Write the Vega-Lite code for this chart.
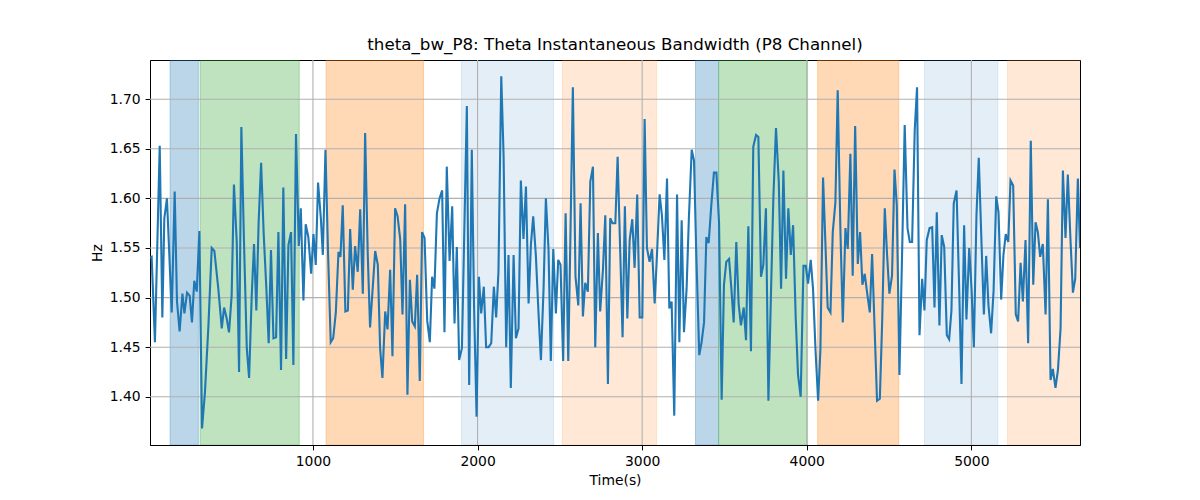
{
  "$schema": "https://vega.github.io/schema/vega-lite/v6.json",
  "width": 930,
  "height": 385,
  "autosize": "none",
  "padding": {"left": 150, "top": 60, "right": 120, "bottom": 55},
  "background": "white",
  "title": {
    "text": "theta_bw_P8: Theta Instantaneous Bandwidth (P8 Channel)",
    "font": "DejaVu Sans",
    "fontSize": 16.7,
    "fontWeight": "normal",
    "color": "black",
    "offset": 6
  },
  "config": {
    "view": {"stroke": "black", "strokeWidth": 1},
    "axis": {
      "grid": false,
      "domainColor": "black",
      "tickColor": "black",
      "tickSize": 4.9,
      "labelPadding": 4.9,
      "labelFont": "DejaVu Sans",
      "labelFontSize": 13.9,
      "labelColor": "black",
      "titleFont": "DejaVu Sans",
      "titleFontSize": 13.9,
      "titleFontWeight": "normal",
      "titleColor": "black"
    }
  },
  "datasets": {
    "bands": [
      {"start": 132, "end": 304, "segment": "S1"},
      {"start": 314, "end": 917, "segment": "S2"},
      {"start": 1080, "end": 1672, "segment": "S3"},
      {"start": 1902, "end": 2462, "segment": "S4"},
      {"start": 2515, "end": 3088, "segment": "S5"},
      {"start": 3324, "end": 3464, "segment": "S1"},
      {"start": 3465, "end": 4005, "segment": "S2"},
      {"start": 4066, "end": 4559, "segment": "S3"},
      {"start": 4715, "end": 5161, "segment": "S4"},
      {"start": 5220, "end": 5663, "segment": "S5"}
    ],
    "xgrid": [{"x": 1000}, {"x": 2000}, {"x": 3000}, {"x": 4000}, {"x": 5000}],
    "ygrid": [{"y": 1.40}, {"y": 1.45}, {"y": 1.50}, {"y": 1.55}, {"y": 1.60}, {"y": 1.65}, {"y": 1.70}],
    "series": [
      {"time": 10, "bw": 1.540}, {"time": 20, "bw": 1.541}, {"time": 40, "bw": 1.455}, {"time": 69, "bw": 1.653},
      {"time": 85, "bw": 1.480}, {"time": 97, "bw": 1.580}, {"time": 113, "bw": 1.600}, {"time": 142, "bw": 1.485},
      {"time": 160, "bw": 1.607}, {"time": 174, "bw": 1.496}, {"time": 190, "bw": 1.466}, {"time": 207, "bw": 1.504},
      {"time": 219, "bw": 1.484}, {"time": 235, "bw": 1.505}, {"time": 251, "bw": 1.502}, {"time": 265, "bw": 1.475},
      {"time": 279, "bw": 1.517}, {"time": 294, "bw": 1.506}, {"time": 310, "bw": 1.567}, {"time": 326, "bw": 1.368},
      {"time": 344, "bw": 1.405}, {"time": 365, "bw": 1.472}, {"time": 385, "bw": 1.550}, {"time": 401, "bw": 1.547},
      {"time": 425, "bw": 1.509}, {"time": 446, "bw": 1.469}, {"time": 460, "bw": 1.490}, {"time": 476, "bw": 1.479},
      {"time": 490, "bw": 1.465}, {"time": 506, "bw": 1.502}, {"time": 520, "bw": 1.614}, {"time": 537, "bw": 1.556},
      {"time": 551, "bw": 1.425}, {"time": 565, "bw": 1.672}, {"time": 581, "bw": 1.556}, {"time": 598, "bw": 1.449},
      {"time": 612, "bw": 1.419}, {"time": 628, "bw": 1.502}, {"time": 642, "bw": 1.554}, {"time": 656, "bw": 1.487},
      {"time": 670, "bw": 1.576}, {"time": 685, "bw": 1.636}, {"time": 701, "bw": 1.563}, {"time": 717, "bw": 1.509},
      {"time": 731, "bw": 1.454}, {"time": 745, "bw": 1.548}, {"time": 760, "bw": 1.459}, {"time": 776, "bw": 1.460},
      {"time": 790, "bw": 1.566}, {"time": 806, "bw": 1.427}, {"time": 820, "bw": 1.611}, {"time": 837, "bw": 1.438},
      {"time": 851, "bw": 1.553}, {"time": 867, "bw": 1.566}, {"time": 881, "bw": 1.432}, {"time": 897, "bw": 1.665},
      {"time": 914, "bw": 1.552}, {"time": 926, "bw": 1.590}, {"time": 942, "bw": 1.497}, {"time": 956, "bw": 1.574},
      {"time": 972, "bw": 1.561}, {"time": 989, "bw": 1.524}, {"time": 1003, "bw": 1.564}, {"time": 1017, "bw": 1.533},
      {"time": 1031, "bw": 1.616}, {"time": 1048, "bw": 1.580}, {"time": 1060, "bw": 1.543}, {"time": 1076, "bw": 1.649},
      {"time": 1092, "bw": 1.543}, {"time": 1108, "bw": 1.455}, {"time": 1123, "bw": 1.459}, {"time": 1139, "bw": 1.485},
      {"time": 1155, "bw": 1.546}, {"time": 1167, "bw": 1.541}, {"time": 1181, "bw": 1.593}, {"time": 1197, "bw": 1.486},
      {"time": 1212, "bw": 1.487}, {"time": 1226, "bw": 1.569}, {"time": 1242, "bw": 1.508}, {"time": 1256, "bw": 1.552},
      {"time": 1272, "bw": 1.526}, {"time": 1287, "bw": 1.589}, {"time": 1303, "bw": 1.504}, {"time": 1317, "bw": 1.666},
      {"time": 1333, "bw": 1.543}, {"time": 1347, "bw": 1.470}, {"time": 1364, "bw": 1.512}, {"time": 1378, "bw": 1.547},
      {"time": 1394, "bw": 1.533}, {"time": 1408, "bw": 1.449}, {"time": 1422, "bw": 1.419}, {"time": 1439, "bw": 1.486},
      {"time": 1453, "bw": 1.468}, {"time": 1469, "bw": 1.528}, {"time": 1483, "bw": 1.441}, {"time": 1499, "bw": 1.590},
      {"time": 1514, "bw": 1.582}, {"time": 1530, "bw": 1.559}, {"time": 1544, "bw": 1.483}, {"time": 1560, "bw": 1.594},
      {"time": 1574, "bw": 1.402}, {"time": 1589, "bw": 1.518}, {"time": 1603, "bw": 1.476}, {"time": 1619, "bw": 1.471},
      {"time": 1633, "bw": 1.523}, {"time": 1649, "bw": 1.416}, {"time": 1663, "bw": 1.566}, {"time": 1678, "bw": 1.560},
      {"time": 1694, "bw": 1.477}, {"time": 1710, "bw": 1.455}, {"time": 1724, "bw": 1.521}, {"time": 1738, "bw": 1.509},
      {"time": 1753, "bw": 1.585}, {"time": 1769, "bw": 1.600}, {"time": 1785, "bw": 1.608}, {"time": 1799, "bw": 1.465},
      {"time": 1813, "bw": 1.632}, {"time": 1830, "bw": 1.537}, {"time": 1846, "bw": 1.592}, {"time": 1860, "bw": 1.474},
      {"time": 1874, "bw": 1.551}, {"time": 1888, "bw": 1.437}, {"time": 1905, "bw": 1.449}, {"time": 1935, "bw": 1.693},
      {"time": 1949, "bw": 1.412}, {"time": 1965, "bw": 1.649}, {"time": 1979, "bw": 1.489}, {"time": 1994, "bw": 1.380},
      {"time": 2008, "bw": 1.521}, {"time": 2022, "bw": 1.484}, {"time": 2038, "bw": 1.511}, {"time": 2052, "bw": 1.450},
      {"time": 2067, "bw": 1.450}, {"time": 2083, "bw": 1.454}, {"time": 2099, "bw": 1.511}, {"time": 2113, "bw": 1.480},
      {"time": 2127, "bw": 1.526}, {"time": 2144, "bw": 1.723}, {"time": 2158, "bw": 1.644}, {"time": 2174, "bw": 1.450},
      {"time": 2188, "bw": 1.543}, {"time": 2202, "bw": 1.409}, {"time": 2219, "bw": 1.543}, {"time": 2233, "bw": 1.459},
      {"time": 2249, "bw": 1.469}, {"time": 2263, "bw": 1.618}, {"time": 2279, "bw": 1.559}, {"time": 2294, "bw": 1.612},
      {"time": 2310, "bw": 1.494}, {"time": 2324, "bw": 1.553}, {"time": 2338, "bw": 1.582}, {"time": 2354, "bw": 1.543},
      {"time": 2371, "bw": 1.482}, {"time": 2385, "bw": 1.437}, {"time": 2401, "bw": 1.509}, {"time": 2415, "bw": 1.600},
      {"time": 2431, "bw": 1.549}, {"time": 2445, "bw": 1.436}, {"time": 2460, "bw": 1.549}, {"time": 2476, "bw": 1.484},
      {"time": 2490, "bw": 1.538}, {"time": 2504, "bw": 1.533}, {"time": 2520, "bw": 1.436}, {"time": 2535, "bw": 1.585},
      {"time": 2551, "bw": 1.436}, {"time": 2565, "bw": 1.570}, {"time": 2579, "bw": 1.712}, {"time": 2595, "bw": 1.521},
      {"time": 2612, "bw": 1.492}, {"time": 2626, "bw": 1.595}, {"time": 2640, "bw": 1.481}, {"time": 2654, "bw": 1.515},
      {"time": 2670, "bw": 1.506}, {"time": 2685, "bw": 1.617}, {"time": 2701, "bw": 1.632}, {"time": 2715, "bw": 1.450},
      {"time": 2731, "bw": 1.565}, {"time": 2745, "bw": 1.486}, {"time": 2762, "bw": 1.529}, {"time": 2776, "bw": 1.583},
      {"time": 2792, "bw": 1.413}, {"time": 2806, "bw": 1.580}, {"time": 2820, "bw": 1.575}, {"time": 2837, "bw": 1.575},
      {"time": 2851, "bw": 1.642}, {"time": 2881, "bw": 1.460}, {"time": 2895, "bw": 1.592}, {"time": 2910, "bw": 1.479},
      {"time": 2924, "bw": 1.558}, {"time": 2940, "bw": 1.579}, {"time": 2954, "bw": 1.530}, {"time": 2970, "bw": 1.604},
      {"time": 2985, "bw": 1.480}, {"time": 3001, "bw": 1.480}, {"time": 3015, "bw": 1.680}, {"time": 3029, "bw": 1.550},
      {"time": 3045, "bw": 1.536}, {"time": 3060, "bw": 1.549}, {"time": 3076, "bw": 1.494}, {"time": 3090, "bw": 1.543},
      {"time": 3106, "bw": 1.604}, {"time": 3120, "bw": 1.583}, {"time": 3135, "bw": 1.538}, {"time": 3151, "bw": 1.620},
      {"time": 3165, "bw": 1.489}, {"time": 3179, "bw": 1.496}, {"time": 3195, "bw": 1.381}, {"time": 3212, "bw": 1.604},
      {"time": 3226, "bw": 1.455}, {"time": 3240, "bw": 1.578}, {"time": 3254, "bw": 1.465}, {"time": 3270, "bw": 1.509},
      {"time": 3284, "bw": 1.581}, {"time": 3301, "bw": 1.649}, {"time": 3315, "bw": 1.638}, {"time": 3329, "bw": 1.543},
      {"time": 3347, "bw": 1.442}, {"time": 3361, "bw": 1.455}, {"time": 3376, "bw": 1.475}, {"time": 3390, "bw": 1.561},
      {"time": 3404, "bw": 1.555}, {"time": 3420, "bw": 1.593}, {"time": 3436, "bw": 1.626}, {"time": 3451, "bw": 1.626},
      {"time": 3467, "bw": 1.576}, {"time": 3483, "bw": 1.397}, {"time": 3497, "bw": 1.513}, {"time": 3511, "bw": 1.536},
      {"time": 3528, "bw": 1.539}, {"time": 3542, "bw": 1.509}, {"time": 3556, "bw": 1.475}, {"time": 3572, "bw": 1.556},
      {"time": 3586, "bw": 1.494}, {"time": 3600, "bw": 1.472}, {"time": 3617, "bw": 1.490}, {"time": 3631, "bw": 1.457},
      {"time": 3645, "bw": 1.572}, {"time": 3661, "bw": 1.446}, {"time": 3675, "bw": 1.652}, {"time": 3692, "bw": 1.664},
      {"time": 3706, "bw": 1.662}, {"time": 3722, "bw": 1.521}, {"time": 3736, "bw": 1.533}, {"time": 3752, "bw": 1.590},
      {"time": 3767, "bw": 1.396}, {"time": 3782, "bw": 1.500}, {"time": 3797, "bw": 1.600}, {"time": 3813, "bw": 1.671},
      {"time": 3830, "bw": 1.617}, {"time": 3844, "bw": 1.509}, {"time": 3858, "bw": 1.628}, {"time": 3874, "bw": 1.519},
      {"time": 3888, "bw": 1.590}, {"time": 3903, "bw": 1.543}, {"time": 3917, "bw": 1.573}, {"time": 3933, "bw": 1.479},
      {"time": 3947, "bw": 1.422}, {"time": 3963, "bw": 1.400}, {"time": 3980, "bw": 1.532}, {"time": 3994, "bw": 1.532},
      {"time": 4008, "bw": 1.514}, {"time": 4024, "bw": 1.538}, {"time": 4038, "bw": 1.509}, {"time": 4053, "bw": 1.448},
      {"time": 4069, "bw": 1.396}, {"time": 4083, "bw": 1.448}, {"time": 4099, "bw": 1.621}, {"time": 4113, "bw": 1.556},
      {"time": 4127, "bw": 1.490}, {"time": 4144, "bw": 1.485}, {"time": 4158, "bw": 1.566}, {"time": 4174, "bw": 1.596},
      {"time": 4188, "bw": 1.709}, {"time": 4204, "bw": 1.571}, {"time": 4219, "bw": 1.475}, {"time": 4235, "bw": 1.570},
      {"time": 4249, "bw": 1.549}, {"time": 4265, "bw": 1.645}, {"time": 4279, "bw": 1.522}, {"time": 4294, "bw": 1.673},
      {"time": 4310, "bw": 1.534}, {"time": 4324, "bw": 1.566}, {"time": 4338, "bw": 1.513}, {"time": 4352, "bw": 1.524},
      {"time": 4369, "bw": 1.502}, {"time": 4383, "bw": 1.485}, {"time": 4397, "bw": 1.544}, {"time": 4413, "bw": 1.465},
      {"time": 4427, "bw": 1.396}, {"time": 4444, "bw": 1.398}, {"time": 4458, "bw": 1.475}, {"time": 4474, "bw": 1.590},
      {"time": 4488, "bw": 1.543}, {"time": 4502, "bw": 1.504}, {"time": 4518, "bw": 1.522}, {"time": 4533, "bw": 1.629},
      {"time": 4547, "bw": 1.593}, {"time": 4563, "bw": 1.422}, {"time": 4579, "bw": 1.543}, {"time": 4595, "bw": 1.674},
      {"time": 4612, "bw": 1.570}, {"time": 4626, "bw": 1.556}, {"time": 4640, "bw": 1.556}, {"time": 4656, "bw": 1.669},
      {"time": 4670, "bw": 1.712}, {"time": 4685, "bw": 1.462}, {"time": 4701, "bw": 1.519}, {"time": 4715, "bw": 1.487},
      {"time": 4729, "bw": 1.558}, {"time": 4746, "bw": 1.570}, {"time": 4762, "bw": 1.571}, {"time": 4776, "bw": 1.490},
      {"time": 4790, "bw": 1.586}, {"time": 4806, "bw": 1.472}, {"time": 4820, "bw": 1.563}, {"time": 4835, "bw": 1.551},
      {"time": 4851, "bw": 1.462}, {"time": 4865, "bw": 1.458}, {"time": 4879, "bw": 1.487}, {"time": 4893, "bw": 1.595},
      {"time": 4910, "bw": 1.608}, {"time": 4926, "bw": 1.509}, {"time": 4940, "bw": 1.413}, {"time": 4956, "bw": 1.573},
      {"time": 4970, "bw": 1.478}, {"time": 4987, "bw": 1.550}, {"time": 5001, "bw": 1.509}, {"time": 5015, "bw": 1.450},
      {"time": 5031, "bw": 1.583}, {"time": 5045, "bw": 1.641}, {"time": 5062, "bw": 1.553}, {"time": 5076, "bw": 1.483},
      {"time": 5090, "bw": 1.542}, {"time": 5104, "bw": 1.492}, {"time": 5120, "bw": 1.464}, {"time": 5135, "bw": 1.507},
      {"time": 5151, "bw": 1.602}, {"time": 5165, "bw": 1.586}, {"time": 5181, "bw": 1.498}, {"time": 5195, "bw": 1.543},
      {"time": 5209, "bw": 1.564}, {"time": 5224, "bw": 1.556}, {"time": 5238, "bw": 1.618}, {"time": 5254, "bw": 1.613},
      {"time": 5270, "bw": 1.483}, {"time": 5284, "bw": 1.476}, {"time": 5299, "bw": 1.535}, {"time": 5313, "bw": 1.496},
      {"time": 5329, "bw": 1.558}, {"time": 5345, "bw": 1.454}, {"time": 5361, "bw": 1.658}, {"time": 5376, "bw": 1.513},
      {"time": 5390, "bw": 1.576}, {"time": 5404, "bw": 1.566}, {"time": 5418, "bw": 1.541}, {"time": 5434, "bw": 1.554},
      {"time": 5451, "bw": 1.483}, {"time": 5465, "bw": 1.599}, {"time": 5481, "bw": 1.417}, {"time": 5495, "bw": 1.428},
      {"time": 5511, "bw": 1.409}, {"time": 5526, "bw": 1.427}, {"time": 5542, "bw": 1.469}, {"time": 5556, "bw": 1.628},
      {"time": 5572, "bw": 1.560}, {"time": 5586, "bw": 1.624}, {"time": 5602, "bw": 1.559}, {"time": 5617, "bw": 1.505},
      {"time": 5631, "bw": 1.519}, {"time": 5647, "bw": 1.620}, {"time": 5660, "bw": 1.550}
    ]
  },
  "layer": [
    {
      "data": {"name": "bands"},
      "transform": [{"filter": "datum.segment == 'S1' || datum.segment == 'S2' || datum.segment == 'S3'"}],
      "mark": {"type": "rect", "strokeWidth": 1, "clip": true, "fillOpacity": 0.3, "strokeOpacity": 0.3},
      "encoding": {
        "x": {
          "field": "start",
          "type": "quantitative",
          "scale": {"domain": [10, 5660], "nice": false, "zero": false},
          "axis": {"title": "Time(s)", "values": [1000, 2000, 3000, 4000, 5000], "format": "d", "titlePadding": 5}
        },
        "x2": {"field": "end"},
        "fill": {
          "field": "segment",
          "type": "nominal",
          "scale": {"domain": ["S1", "S2", "S3", "S4", "S5"], "range": ["#1f77b4", "#2ca02c", "#ff7f0e", "#1f77b4", "#ff7f0e"]},
          "legend": null
        },
        "stroke": {
          "field": "segment",
          "type": "nominal",
          "scale": {"domain": ["S1", "S2", "S3", "S4", "S5"], "range": ["#1f77b4", "#2ca02c", "#ff7f0e", "#1f77b4", "#ff7f0e"]},
          "legend": null
        }
      }
    },
    {
      "data": {"name": "bands"},
      "transform": [{"filter": "datum.segment == 'S4'"}],
      "mark": {"type": "rect", "strokeWidth": 1, "clip": true, "fillOpacity": 0.12, "strokeOpacity": 0.12},
      "encoding": {
        "x": {"field": "start", "type": "quantitative", "axis": {"title": "Time(s)", "values": [1000, 2000, 3000, 4000, 5000], "format": "d", "titlePadding": 5}},
        "x2": {"field": "end"},
        "fill": {"field": "segment", "type": "nominal", "legend": null},
        "stroke": {"field": "segment", "type": "nominal", "legend": null}
      }
    },
    {
      "data": {"name": "bands"},
      "transform": [{"filter": "datum.segment == 'S5'"}],
      "mark": {"type": "rect", "strokeWidth": 1, "clip": true, "fillOpacity": 0.17, "strokeOpacity": 0.17},
      "encoding": {
        "x": {"field": "start", "type": "quantitative", "axis": {"title": "Time(s)", "values": [1000, 2000, 3000, 4000, 5000], "format": "d", "titlePadding": 5}},
        "x2": {"field": "end"},
        "fill": {"field": "segment", "type": "nominal", "legend": null},
        "stroke": {"field": "segment", "type": "nominal", "legend": null}
      }
    },
    {
      "data": {"name": "xgrid"},
      "mark": {"type": "rule", "color": "#b0b0b0", "strokeWidth": 1.1},
      "encoding": {
        "x": {"field": "x", "type": "quantitative", "axis": {"title": "Time(s)", "values": [1000, 2000, 3000, 4000, 5000], "format": "d", "titlePadding": 5}}
      }
    },
    {
      "data": {"name": "ygrid"},
      "mark": {"type": "rule", "color": "#b0b0b0", "strokeWidth": 1.1},
      "encoding": {
        "y": {
          "field": "y",
          "type": "quantitative",
          "scale": {"domain": [1.3514, 1.7395], "nice": false, "zero": false},
          "axis": {"title": "Hz", "values": [1.40, 1.45, 1.50, 1.55, 1.60, 1.65, 1.70], "format": ".2f", "titlePadding": 5}
        }
      }
    },
    {
      "data": {"name": "series"},
      "mark": {"type": "line", "color": "#1f77b4", "strokeWidth": 2.1, "clip": true},
      "encoding": {
        "x": {"field": "time", "type": "quantitative", "axis": {"title": "Time(s)", "values": [1000, 2000, 3000, 4000, 5000], "format": "d", "titlePadding": 5}},
        "y": {"field": "bw", "type": "quantitative", "axis": {"title": "Hz", "values": [1.40, 1.45, 1.50, 1.55, 1.60, 1.65, 1.70], "format": ".2f", "titlePadding": 5}}
      }
    }
  ]
}
